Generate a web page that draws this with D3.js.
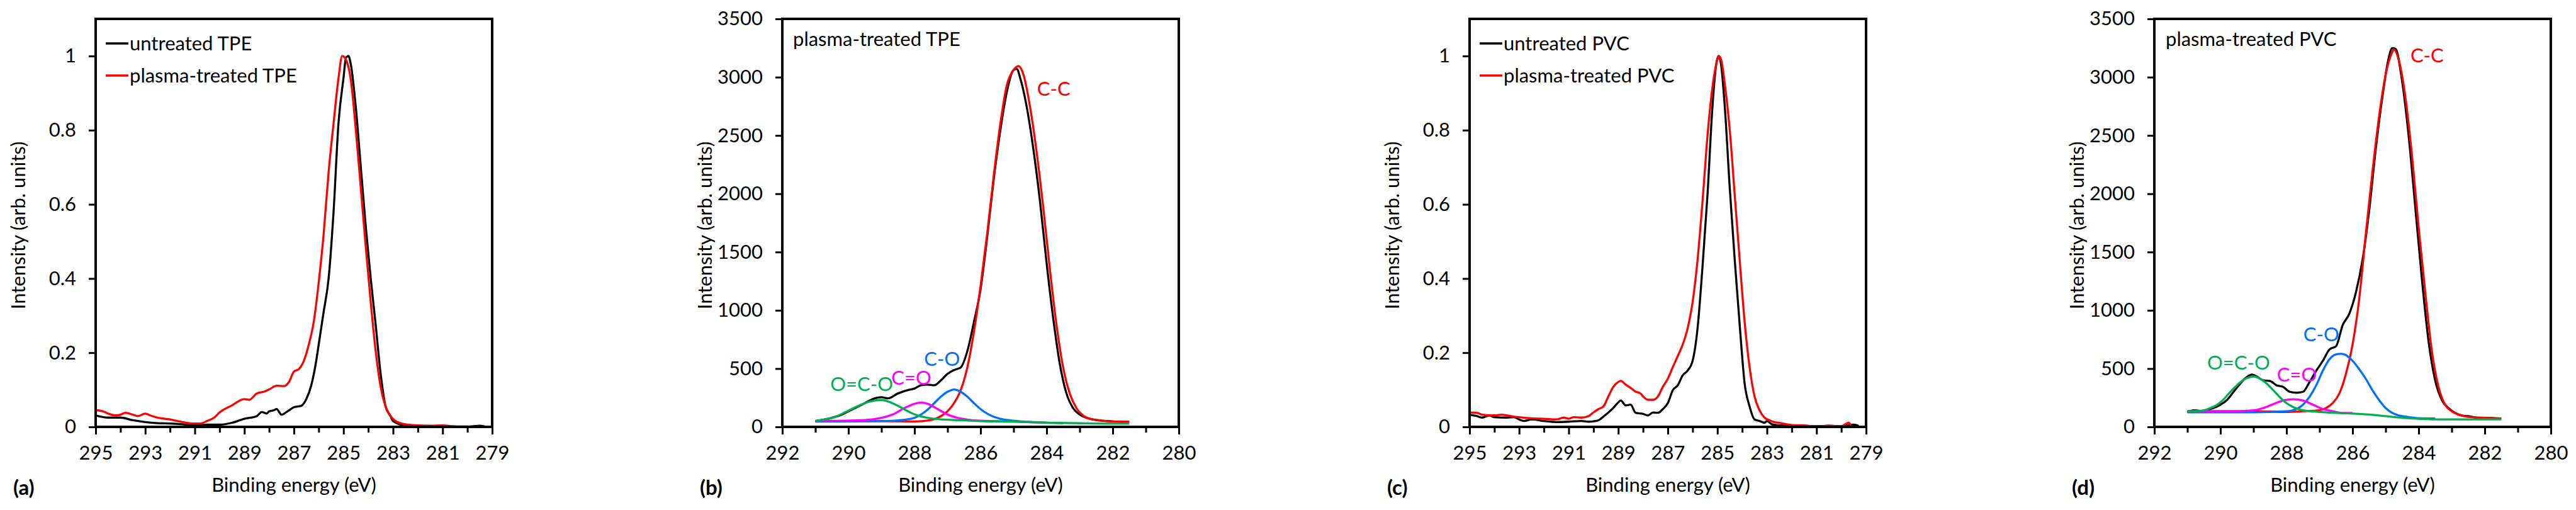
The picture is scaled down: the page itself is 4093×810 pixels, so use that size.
<!DOCTYPE html>
<html>
<head>
<meta charset="utf-8">
<script src="https://cdn.jsdelivr.net/npm/d3@7"></script>
<style>
  html, body { margin: 0; padding: 0; background: #fff; }
  svg { display: block; }
  text { font-family: Lato, "Open Sans", sans-serif; }
</style>
</head>
<body>
<svg id="chart" width="4093" height="810"></svg>
<script>
// ---------------- DATA (binding energy eV, intensity) ----------------
// Panel (a): normalised C1s spectra, TPE
const aUntreatedTPE = [
  [295,0.031],[294.5,0.025],[294,0.025],[293.5,0.018],[293,0.013],[292.5,0.010],[292,0.009],
  [291.5,0.007],[291,0.004],[290.5,0.006],[290,0.006],[289.5,0.011],[289,0.022],[288.5,0.029],
  [288.3,0.040],[288.1,0.036],[288,0.042],[287.8,0.045],[287.7,0.048],[287.5,0.033],[287.3,0.040],
  [287,0.053],[286.7,0.057],[286.5,0.075],[286.3,0.112],[286.1,0.178],[286,0.222],[285.8,0.31],
  [285.6,0.40],[285.4,0.58],[285.2,0.82],[285.0,0.94],[284.9,0.995],[284.8,1.0],[284.7,0.976],
  [284.5,0.86],[284.3,0.70],[284.1,0.54],[283.9,0.40],[283.7,0.275],[283.5,0.143],[283.3,0.055],
  [283.1,0.029],[283,0.016],[282.5,0.004],[282,0.003],[281,0.002],[280,0.001],[279.5,0.003],[279.3,0.001]
];
const aPlasmaTPE = [
  [295,0.045],[294.7,0.042],[294.5,0.036],[294.2,0.031],[294,0.033],[293.8,0.038],[293.5,0.033],
  [293.3,0.029],[293,0.036],[292.8,0.031],[292.5,0.025],[292,0.020],[291.5,0.013],[291,0.009],
  [290.8,0.009],[290.5,0.016],[290.2,0.026],[290,0.039],[289.5,0.058],[289,0.075],[288.8,0.073],
  [288.5,0.090],[288.2,0.095],[288,0.101],[287.7,0.111],[287.4,0.110],[287.2,0.121],[287,0.149],
  [286.8,0.156],[286.6,0.178],[286.4,0.222],[286.2,0.283],[286,0.389],[285.8,0.52],[285.6,0.687],
  [285.4,0.818],[285.2,0.941],[285.05,1.0],[284.9,0.99],[284.7,0.934],[284.5,0.80],[284.3,0.643],
  [284.1,0.485],[283.9,0.336],[283.7,0.204],[283.5,0.108],[283.3,0.055],[283.1,0.029],[282.9,0.016],
  [282.5,0.007],[282,0.004],[281.5,0.003],[281,0.004],[280.5,0.001],[280,0.0],[279.7,0.0]
];
// Panel (b): fitted C1s, plasma-treated TPE
const bEnvelope = [
  [291,50],[290.5,78],[290.2,106],[290,134],[289.7,176],[289.5,204],[289.2,245],[289,254],
  [288.8,245],[288.5,287],[288.2,315],[288,329],[287.8,357],[287.6,363],[287.4,357],[287.2,399],
  [287,455],[286.8,488],[286.6,510],[286.4,650],[286.2,900],[286,1180],[285.8,1626],[285.6,2128],
  [285.4,2546],[285.2,2880],[285,3062],[284.9,3070],[284.8,2992],[284.6,2741],[284.4,2379],
  [284.2,1932],[284,1403],[283.8,929],[283.6,538],[283.4,287],[283.2,162],[283,106],[282.8,78],
  [282.5,59],[282,47],[281.5,42]
];
const bCC = [
  [291,50],[289,49],[288,47],[287.5,59],[287.2,92],[287,134],[286.8,204],[286.6,315],[286.4,510],
  [286.2,817],[286,1207],[285.8,1654],[285.6,2156],[285.4,2602],[285.2,2936],[285,3062],[284.85,3095],
  [284.7,3020],[284.5,2741],[284.3,2351],[284.1,1877],[283.9,1347],[283.7,873],[283.5,510],
  [283.3,287],[283.1,162],[282.9,98],[282.7,70],[282.4,56],[282,47],[281.5,42]
];
const bCO = [
  [291,45],[289,50],[288.5,56],[288,78],[287.8,106],[287.6,148],[287.4,204],[287.2,259],[287,301],
  [286.8,321],[286.6,301],[286.4,259],[286.2,204],[286,153],[285.8,114],[285.6,86],[285.4,70],
  [285,53],[284.5,42],[284,36]
];
const bCdO = [
  [291,50],[289.5,59],[289,78],[288.6,114],[288.3,162],[288,198],[287.8,209],[287.6,198],[287.3,153],
  [287,106],[286.7,78],[286.3,59],[286,53],[285,45],[284,36],[283.5,31]
];
const bOCO = [
  [291,50],[290.7,64],[290.4,86],[290.1,125],[289.8,167],[289.5,204],[289.2,226],[289,231],[288.8,218],
  [288.5,181],[288.2,134],[287.9,98],[287.6,78],[287.2,64],[286.5,56],[286,50],[285,45],[284,36],
  [283,31],[282,28],[281.5,28]
];
// Panel (c): normalised C1s spectra, PVC
const cUntreatedPVC = [
  [295,0.033],[294.7,0.029],[294.5,0.025],[294.2,0.031],[294,0.026],[293.5,0.025],[293.2,0.026],
  [293,0.020],[292.8,0.016],[292.5,0.020],[292,0.016],[291.5,0.013],[291,0.014],[290.5,0.016],
  [290.2,0.014],[290,0.015],[289.8,0.018],[289.5,0.033],[289.2,0.051],[289,0.066],[288.9,0.071],
  [288.7,0.058],[288.5,0.060],[288.3,0.038],[288,0.035],[287.8,0.031],[287.6,0.039],[287.4,0.038],
  [287.2,0.048],[287,0.064],[286.8,0.099],[286.6,0.112],[286.4,0.139],[286.2,0.152],[286,0.178],
  [285.8,0.266],[285.6,0.432],[285.4,0.625],[285.2,0.862],[285.05,0.976],[284.95,1.0],[284.85,0.976],
  [284.7,0.862],[284.5,0.643],[284.3,0.45],[284.1,0.275],[283.9,0.117],[283.7,0.055],[283.5,0.020],
  [283.3,0.016],[283.1,0.011],[283,0.016],[282.8,0.007],[282.5,0.004],[282,0.003],[281.5,0.002],
  [281,0.002],[280.5,0.003],[280,0.002],[279.5,0.006],[279.3,0.003]
];
const cPlasmaPVC = [
  [295,0.039],[294.7,0.038],[294.5,0.033],[294,0.031],[293.7,0.033],[293.5,0.031],[293,0.026],
  [292.5,0.023],[292,0.022],[291.5,0.020],[291.2,0.025],[291,0.022],[290.8,0.026],[290.5,0.025],
  [290.2,0.029],[290,0.039],[289.8,0.048],[289.6,0.055],[289.4,0.082],[289.2,0.108],[289,0.121],
  [288.9,0.124],[288.7,0.114],[288.5,0.105],[288.3,0.095],[288.1,0.090],[288,0.082],[287.8,0.073],
  [287.6,0.073],[287.4,0.082],[287.2,0.108],[287,0.130],[286.8,0.161],[286.6,0.191],[286.4,0.222],
  [286.2,0.266],[286,0.336],[285.8,0.45],[285.6,0.608],[285.4,0.784],[285.2,0.915],[285,0.99],
  [284.95,1.0],[284.85,0.99],[284.7,0.924],[284.5,0.80],[284.3,0.625],[284.1,0.45],[283.9,0.283],
  [283.7,0.161],[283.5,0.082],[283.3,0.045],[283.1,0.025],[282.9,0.018],[282.7,0.013],[282.5,0.011],
  [282.2,0.007],[282,0.005],[281.5,0.004],[281,0.001],[280.5,0.003],[280,0.002],[279.7,0.011],[279.6,0.002]
];
// Panel (d): fitted C1s, plasma-treated PVC
const dEnvelope = [
  [291,125],[290.8,142],[290.5,134],[290.3,153],[290,190],[289.8,231],[289.6,301],[289.4,371],
  [289.2,427],[289.05,449],[288.9,432],[288.7,399],[288.5,393],[288.3,357],[288.1,343],[287.9,301],
  [287.7,293],[287.5,301],[287.3,385],[287.1,482],[286.9,566],[286.7,664],[286.5,692],[286.3,873],
  [286.1,970],[285.9,1152],[285.7,1431],[285.5,1849],[285.3,2379],[285.1,2825],[284.9,3173],
  [284.8,3249],[284.7,3243],[284.5,2964],[284.3,2490],[284.1,1877],[283.9,1263],[283.7,733],
  [283.5,399],[283.3,231],[283.1,162],[282.9,120],[282.7,98],[282.5,92],[282.2,78],[282,78],[281.5,72]
];
const dCC = [
  [291,134],[289,134],[288,128],[287.5,134],[287,142],[286.8,162],[286.6,204],[286.4,287],[286.2,455],
  [286,706],[285.8,1096],[285.6,1654],[285.4,2184],[285.2,2658],[285,3020],[284.8,3215],[284.75,3238],
  [284.6,3145],[284.4,2825],[284.2,2323],[284,1710],[283.8,1152],[283.6,650],[283.4,343],[283.2,190],
  [283,134],[282.8,106],[282.5,86],[282,78],[281.5,72]
];
const dCO = [
  [291,125],[289,125],[288,134],[287.7,153],[287.5,190],[287.3,259],[287.1,357],[286.9,482],[286.7,580],
  [286.5,622],[286.35,627],[286.2,616],[286,566],[285.8,496],[285.6,413],[285.4,315],[285.2,231],
  [285,162],[284.8,120],[284.6,98],[284.3,84],[284,75],[283.5,72]
];
const dCdO = [
  [291,134],[290,134],[289.5,134],[289,142],[288.7,162],[288.4,195],[288.1,226],[287.8,237],[287.5,226],
  [287.2,190],[286.9,153],[286.6,134],[286.3,120],[286,120]
];
const dOCO = [
  [291,134],[290.7,134],[290.5,142],[290.3,162],[290.1,190],[289.9,237],[289.7,301],[289.5,357],
  [289.3,404],[289.1,427],[289,432],[288.8,413],[288.6,371],[288.4,315],[288.2,254],[288,204],
  [287.8,170],[287.5,142],[287,128],[286.5,120],[286,114],[285.5,106],[285,92],[284.5,78],[284,70],
  [283.5,64],[283,64],[282,64],[281.5,64]
];

// Tick values / labels
const xTicksWide = d3.range(295, 278.5, -1);          // 295 ... 279
const xLabelsWide = [295, 293, 291, 289, 287, 285, 283, 281, 279];
const xTicksNarrow = d3.range(292, 279.5, -1);        // 292 ... 280
const xLabelsNarrow = [292, 290, 288, 286, 284, 282, 280];
const yTicksNorm = [0, 0.2, 0.4, 0.6, 0.8, 1];
const yTicksCounts = [0, 500, 1000, 1500, 2000, 2500, 3000, 3500];

const panelLetters = ["(a)", "(b)", "(c)", "(d)"];
const legendA = ["untreated TPE", "plasma-treated TPE"];
const legendC = ["untreated PVC", "plasma-treated PVC"];
const titleB = "plasma-treated TPE";
const titleD = "plasma-treated PVC";
const compLabels = ["C-C", "C-O", "C=O", "O=C-O"];
// label anchor positions in data units [eV, intensity] for panels (b) and (d)
const compLabelPosB = [[284.29, 2841], [287.71, 524], [288.70, 362], [290.55, 308]];
const compLabelPosD = [[284.25, 3127], [287.49, 735], [288.29, 389], [290.40, 492]];
const xTitle = "Binding energy (eV)";
const yTitle = "Intensity (arb. units)";

// ---------------- DRAWING ----------------
const svg = d3.select("#chart");
const COL = { black: "#000000", red: "#ff0000", blue: "#0070ff", magenta: "#ff00ff", green: "#00b050" };
const FS = 31;

function panel(cfg) {
  const g = svg.append("g");
  const x = d3.scaleLinear().domain(cfg.xDomain).range([cfg.left, cfg.left + cfg.width]);
  const y = d3.scaleLinear().domain(cfg.yDomain).range([cfg.bottom, cfg.top]);

  // minor ticks (unlabelled)
  const minor = cfg.xTicks.filter(v => !cfg.xLabels.includes(v));
  g.append("g").attr("transform", `translate(0,${cfg.bottom})`)
    .call(d3.axisBottom(x).tickValues(minor).tickSize(9).tickFormat(""))
    .call(s => { s.select(".domain").remove(); s.selectAll("line").attr("stroke", "#000").attr("stroke-width", 3); });
  // major ticks
  const xa = g.append("g").attr("transform", `translate(0,${cfg.bottom})`)
    .call(d3.axisBottom(x).tickValues(cfg.xLabels).tickSize(12).tickPadding(18).tickFormat(d3.format("d")));
  xa.select(".domain").remove();
  xa.selectAll("line").attr("stroke", "#000").attr("stroke-width", 3);
  xa.selectAll("text").attr("font-size", FS).attr("font-family", "Lato").style("fill", "#000");

  const ya = g.append("g").attr("transform", `translate(${cfg.left},0)`)
    .call(d3.axisLeft(y).tickValues(cfg.yTicks).tickSize(11).tickPadding(20).tickFormat(cfg.yFormat));
  ya.select(".domain").remove();
  ya.selectAll("line").attr("stroke", "#000").attr("stroke-width", 3);
  ya.selectAll("text").attr("font-size", FS).attr("font-family", "Lato").style("fill", "#000");

  // curves
  const line = d3.line().x(d => x(d[0])).y(d => y(d[1])).curve(d3.curveMonotoneX);
  const clipId = "clip" + cfg.id;
  svg.append("clipPath").attr("id", clipId).append("rect")
    .attr("x", cfg.left).attr("y", cfg.top).attr("width", cfg.width).attr("height", cfg.bottom - cfg.top);
  const cg = g.append("g").attr("clip-path", `url(#${clipId})`);
  cfg.series.forEach(s => {
    cg.append("path").datum(s.data.slice().sort((p, q) => q[0] - p[0]))
      .attr("d", line).attr("fill", "none").attr("stroke", s.color)
      .attr("stroke-width", 3.3).attr("stroke-linejoin", "round");
  });

  // frame
  g.append("rect").attr("x", cfg.left).attr("y", cfg.top).attr("width", cfg.width)
    .attr("height", cfg.bottom - cfg.top).attr("fill", "none").attr("stroke", "#000").attr("stroke-width", 4);

  // axis titles
  g.append("text").attr("x", cfg.left + cfg.width / 2).attr("y", 781).attr("text-anchor", "middle")
    .attr("font-size", FS).style("fill", "#000").text(xTitle);
  g.append("text").attr("transform", `translate(${cfg.left - 112},${(cfg.top + cfg.bottom) / 2 + 4}) rotate(-90)`)
    .attr("text-anchor", "middle").attr("font-size", FS).style("fill", "#000").text(yTitle);
  g.append("text").attr("x", cfg.left - 131).attr("y", 786).attr("font-size", FS + 2)
    .attr("font-weight", "bold").style("fill", "#000").text(cfg.letter);

  return { g, x, y };
}

const TOP = 30, BOTTOM = 678, W = 630;
const fmtNorm = v => (v === 0 ? "0" : d3.format("~g")(v));

// (a)
const pa = panel({ id: "a", left: 152, width: W, top: TOP, bottom: BOTTOM, xDomain: [295, 279], yDomain: [0, 1.1],
  xTicks: xTicksWide, xLabels: xLabelsWide, yTicks: yTicksNorm, yFormat: fmtNorm, letter: panelLetters[0],
  series: [{ data: aUntreatedTPE, color: COL.black }, { data: aPlasmaTPE, color: COL.red }] });
// (b)
const pb = panel({ id: "b", left: 1243, width: W, top: TOP, bottom: BOTTOM, xDomain: [292, 280], yDomain: [0, 3500],
  xTicks: xTicksNarrow, xLabels: xLabelsNarrow, yTicks: yTicksCounts, yFormat: d3.format("d"), letter: panelLetters[1],
  series: [{ data: bEnvelope, color: COL.black }, { data: bCC, color: COL.red }, { data: bCO, color: COL.blue },
           { data: bCdO, color: COL.magenta }, { data: bOCO, color: COL.green }] });
// (c)
const pc = panel({ id: "c", left: 2335, width: W, top: TOP, bottom: BOTTOM, xDomain: [295, 279], yDomain: [0, 1.1],
  xTicks: xTicksWide, xLabels: xLabelsWide, yTicks: yTicksNorm, yFormat: fmtNorm, letter: panelLetters[2],
  series: [{ data: cUntreatedPVC, color: COL.black }, { data: cPlasmaPVC, color: COL.red }] });
// (d)
const pd = panel({ id: "d", left: 3423, width: W, top: TOP, bottom: BOTTOM, xDomain: [292, 280], yDomain: [0, 3500],
  xTicks: xTicksNarrow, xLabels: xLabelsNarrow, yTicks: yTicksCounts, yFormat: d3.format("d"), letter: panelLetters[3],
  series: [{ data: dEnvelope, color: COL.black }, { data: dCC, color: COL.red }, { data: dCO, color: COL.blue },
           { data: dCdO, color: COL.magenta }, { data: dOCO, color: COL.green }] });

// legends for (a) and (c)
function legend(p, left, labels) {
  const colors = [COL.black, COL.red];
  labels.forEach((t, i) => {
    const yy = 69 + i * 51;
    p.g.append("line").attr("x1", left + 16).attr("x2", left + 52).attr("y1", yy).attr("y2", yy)
      .attr("stroke", colors[i]).attr("stroke-width", 3.5);
    p.g.append("text").attr("x", left + 54).attr("y", yy + 11).attr("font-size", FS)
      .style("fill", "#000").text(t);
  });
}
legend(pa, 152, legendA);
legend(pc, 2335, legendC);

// titles in (b), (d)
pb.g.append("text").attr("x", 1243 + 17).attr("y", 73).attr("font-size", FS).style("fill", "#000").text(titleB);
pd.g.append("text").attr("x", 3423 + 18).attr("y", 73).attr("font-size", FS).style("fill", "#000").text(titleD);

// component labels
const compColors = [COL.red, COL.blue, COL.magenta, COL.green];
function compLabels4(p, positions) {
  positions.forEach((pos, i) => {
    p.g.append("text").attr("x", p.x(pos[0])).attr("y", p.y(pos[1])).attr("font-size", FS)
      .style("fill", compColors[i]).text(compLabels[i]);
  });
}
compLabels4(pb, compLabelPosB);
compLabels4(pd, compLabelPosD);
</script>
</body>
</html>
